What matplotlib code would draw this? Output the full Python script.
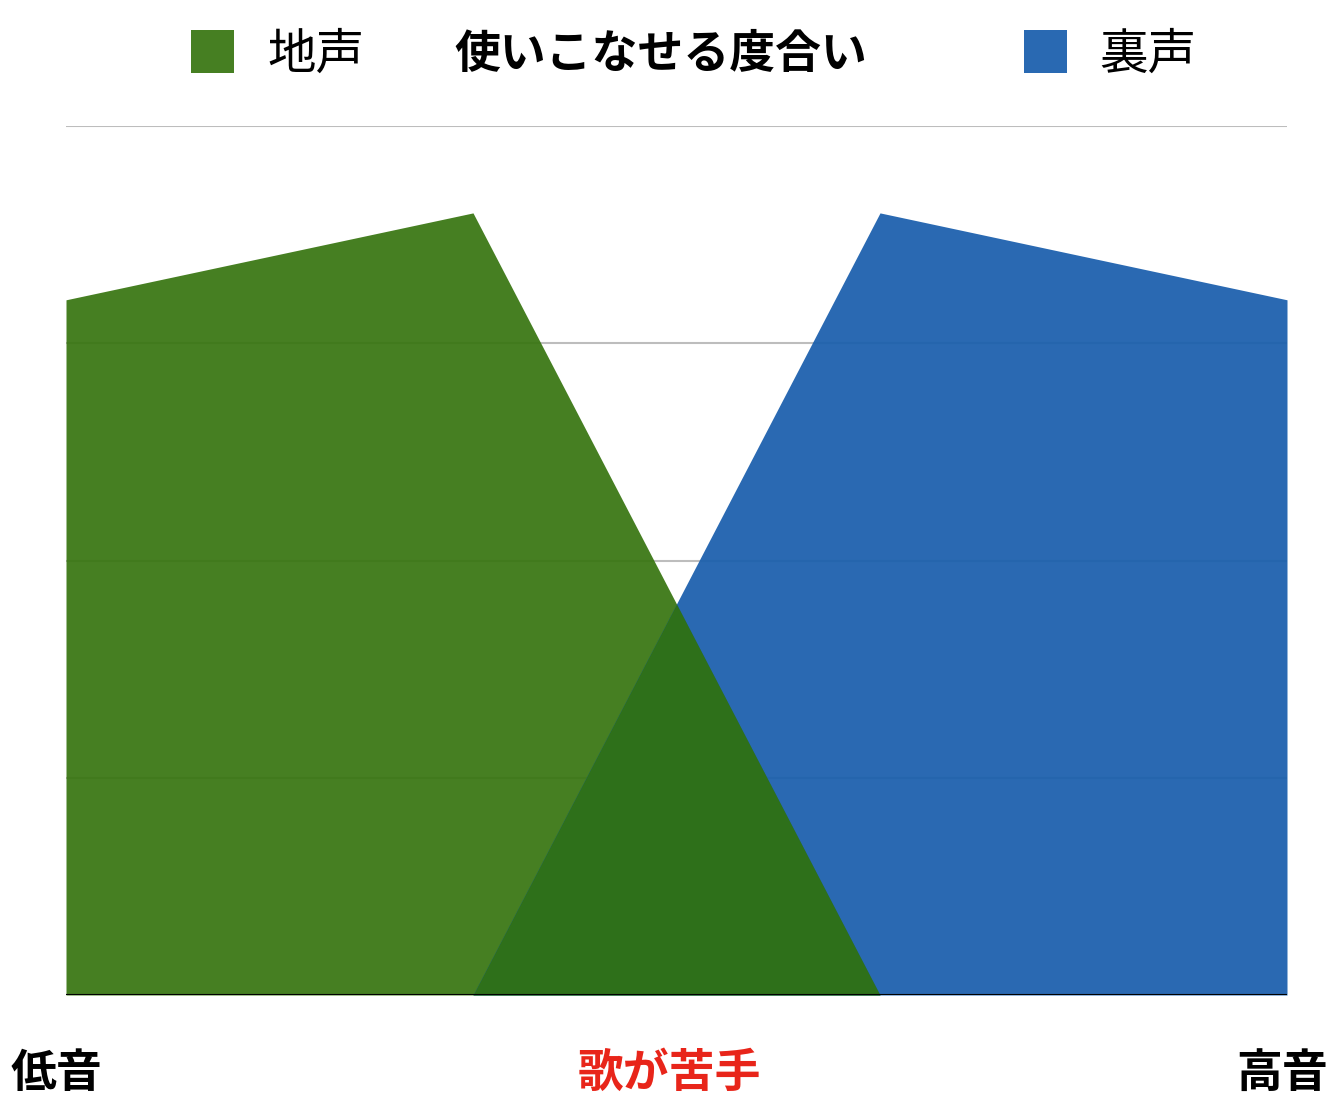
import matplotlib
matplotlib.use("Agg")
import matplotlib.pyplot as plt
from matplotlib.patches import Rectangle
import numpy as np

plt.rcParams['font.family'] = ['Noto Sans CJK JP', 'DejaVu Sans']

# data
positions = [0, 1, 2, 3]
jigoe = [3.2, 3.6, 0.0, 0.0]      # 地声
uragoe = [0.0, 0.0, 3.6, 3.2]     # 裏声
series_names = ['地声', '裏声']
title = '使いこなせる度合い'
x_labels = ['低音', '歌が苦手', '高音']

green = (56/255, 117/255, 17/255)
blue = (25/255, 94/255, 172/255)
overlap = (46/255, 112/255, 26/255)
alpha = 0.93

fig = plt.figure(figsize=(13.4, 11.02), dpi=100)
ax = fig.add_axes([66/1340, 1 - 995/1102, (1287 - 66)/1340, (995 - 126)/1102])

# gridlines under the areas
ax.set_ylim(0, 4)
ax.set_xlim(positions[0], positions[-1])
for yv in [1, 2, 3, 4]:
    ax.axhline(yv, color='#bdbdbd', lw=1.5, zorder=0)

ax.fill_between(positions, jigoe, 0, color=green, alpha=alpha, lw=0, zorder=1)
ax.fill_between(positions, uragoe, 0, color=blue, alpha=alpha, lw=0, zorder=1)

# region where both areas overlap
xs = np.linspace(positions[0], positions[-1], 601)
both = np.minimum(np.interp(xs, positions, jigoe), np.interp(xs, positions, uragoe))
ax.fill_between(xs, both, 0, color=overlap, lw=0, zorder=2)

ax.axhline(0, color='black', lw=1.5, zorder=3)

for s in ax.spines.values():
    s.set_visible(False)
ax.set_xticks([])
ax.set_yticks([])

# title and legend
fig.text(661/1340, 1 - 55/1102, title, fontsize=33, fontweight='bold',
         ha='center', va='center')
for sx, tx, col, name in [(191, 267, (70/255, 127/255, 34/255), series_names[0]),
                          (1024, 1099, (41/255, 105/255, 178/255), series_names[1])]:
    fig.patches.append(Rectangle((sx/1340, 1 - 73/1102), 43/1340, 43/1102,
                                 transform=fig.transFigure, color=col, lw=0))
    fig.text(tx/1340, 1 - 55/1102, name, fontsize=35, ha='left', va='center')

# axis labels
fig.text(11/1340, 1 - 1074/1102, x_labels[0], fontsize=33, fontweight='bold',
         ha='left', va='center')
fig.text(669/1340, 1 - 1074/1102, x_labels[1], fontsize=33, fontweight='bold',
         color='#e8251a', ha='center', va='center')
fig.text(1328/1340, 1 - 1074/1102, x_labels[2], fontsize=33, fontweight='bold',
         ha='right', va='center')

fig.savefig('out.png', dpi=100)
